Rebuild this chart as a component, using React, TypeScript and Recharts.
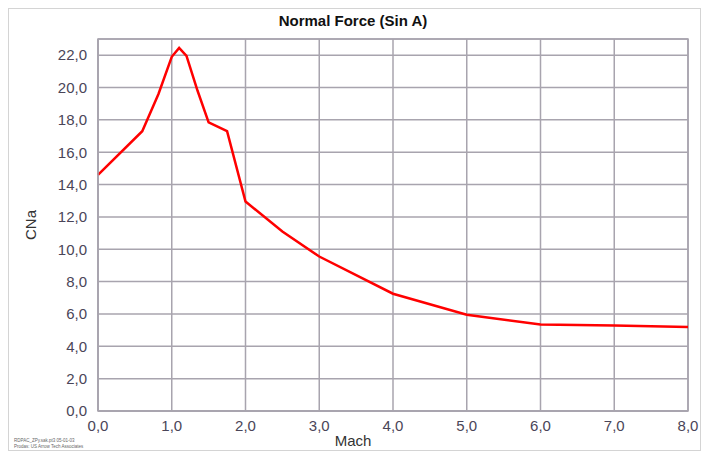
import { CartesianGrid, Line, LineChart, ReferenceArea, XAxis, YAxis } from "recharts";

// Normal force slope CNa vs Mach
const mach = [0, 0.6, 0.82, 1.0, 1.1, 1.2, 1.35, 1.5, 1.75, 2.0, 2.5, 3.0, 4.0, 5.0, 6.0, 7.0, 8.0];
const cna = [14.6, 17.3, 19.6, 21.9, 22.45, 21.95, 19.8, 17.85, 17.3, 12.95, 11.1, 9.55, 7.25, 5.95, 5.35, 5.28, 5.2];

const xTicks = [0, 1, 2, 3, 4, 5, 6, 7, 8];
const yTicks = [0, 2, 4, 6, 8, 10, 12, 14, 16, 18, 20, 22];

const data = mach.map((m, i) => ({ mach: m, cna: cna[i] }));

const fmt = (v: number) => v.toFixed(1).replace(".", ",");

const labelColor = "#4a4558";
const gridColor = "#a8a4ae";
const font = "'Liberation Sans', Arial, sans-serif";

export default function App() {
  return (
    <div style={{ position: "absolute", left: 0, top: 0, width: 706, height: 455, background: "#fff", fontFamily: font }}>
      <div
        style={{
          position: "absolute",
          left: 8,
          top: 8,
          width: 691,
          height: 441,
          border: "1px solid #d4d4d4",
        }}
      />
      <LineChart
        width={706}
        height={455}
        data={data}
        margin={{ top: 39, right: 18, bottom: 14, left: 38 }}
        style={{ position: "absolute", left: 0, top: 0 }}
      >
        <CartesianGrid stroke={gridColor} strokeWidth={1.5} />
        <XAxis
          type="number"
          dataKey="mach"
          domain={[0, 8]}
          ticks={xTicks}
          tickFormatter={fmt}
          height={30}
          tickLine={false}
          axisLine={{ stroke: gridColor, strokeWidth: 1.5 }}
          tickMargin={3}
          tick={{ fill: labelColor, fontSize: 15, fontFamily: font }}
        />
        <YAxis
          type="number"
          domain={[0, 23]}
          ticks={yTicks}
          tickFormatter={fmt}
          width={60}
          tickLine={false}
          axisLine={{ stroke: gridColor, strokeWidth: 1.5 }}
          tickMargin={5}
          tick={{ fill: labelColor, fontSize: 15, fontFamily: font }}
        />
        <ReferenceArea x1={0} x2={8} y1={0} y2={23} fill="none" stroke={gridColor} strokeWidth={1.5} ifOverflow="visible" />
        <Line
          type="linear"
          dataKey="cna"
          stroke="#ff0000"
          strokeWidth={2.5}
          dot={false}
          isAnimationActive={false}
        />
      </LineChart>
      <div style={{ position: "absolute", left: 0, width: 706, top: 12, textAlign: "center", fontSize: 15, fontWeight: "bold", color: "#111" }}>
        Normal Force (Sin A)
      </div>
      <div
        style={{
          position: "absolute",
          left: 30,
          top: 225,
          transform: "translate(-50%, -50%) rotate(-90deg)",
          fontSize: 15,
          color: "#333",
        }}
      >
        CNa
      </div>
      <div style={{ position: "absolute", left: 0, width: 706, top: 432, textAlign: "center", fontSize: 15, color: "#333" }}>
        Mach
      </div>
      <div style={{ position: "absolute", left: 14, top: 438, fontSize: 4.5, lineHeight: "6px", color: "#666" }}>
        <div>RDPAC_ZPy.sak.pt3 05-01-03</div>
        <div>Prodas: US Arrow Tech Associates</div>
      </div>
    </div>
  );
}
